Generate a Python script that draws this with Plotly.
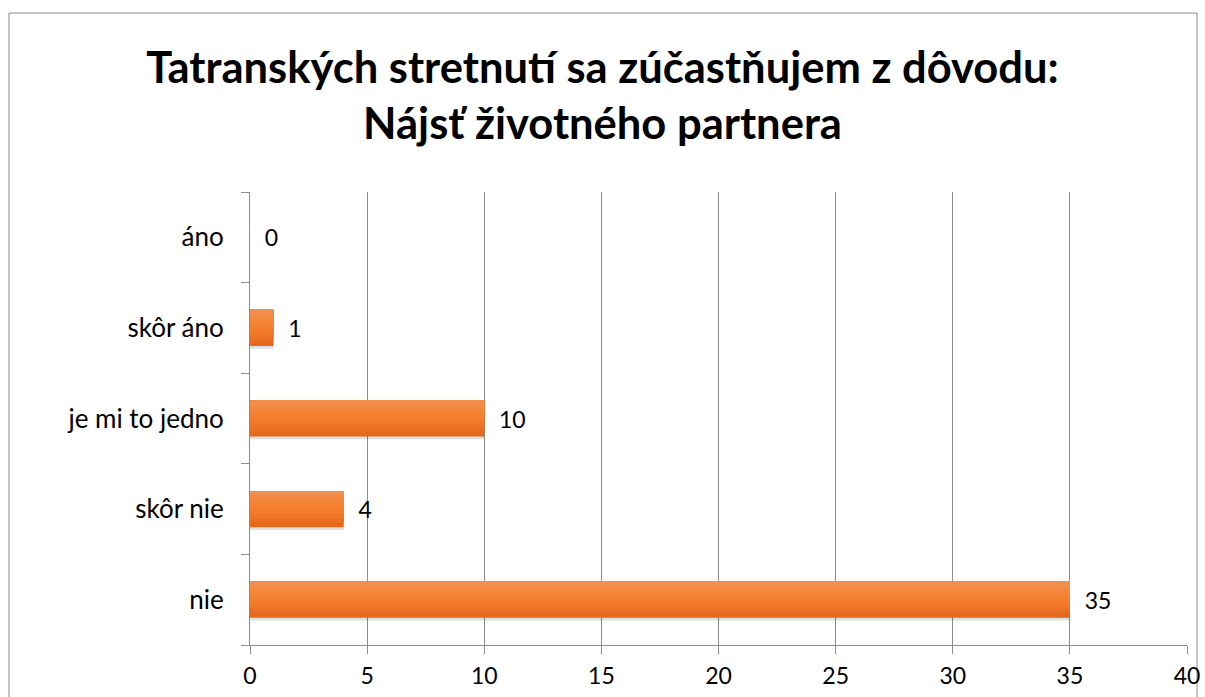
import plotly.graph_objects as go

categories = ["nie", "skôr nie", "je mi to jedno", "skôr áno", "áno"]
counts = [35, 4, 10, 1, 0]
x_ticks = [0, 5, 10, 15, 20, 25, 30, 35, 40]

W, H = 1205, 697
L, R, T, B = 250, 18, 192, 52
pw, ph = W - L - R, H - T - B
FONT = "Lato, Liberation Sans, sans-serif"

def px_x(v):
    return (v - L) / pw

def px_y(v):
    return 1 - (v - T) / ph

fig = go.Figure()

# soft shadow under each bar
fig.add_trace(go.Bar(
    y=categories, x=counts, orientation="h",
    width=0.4, offset=-0.23,
    marker=dict(color="rgba(0,0,0,0.13)", line=dict(width=0)),
    hoverinfo="skip",
))

# fake vertical gradient: dark at the bottom, lighter towards the top
grad = ["#E4691D", "#EA6F22", "#EF7627", "#F37C2B", "#F4802F", "#F38438", "#F38943", "#F28E4E"]
step = 0.4 / len(grad)
for i, col in enumerate(grad):
    fig.add_trace(go.Bar(
        y=categories, x=counts, orientation="h",
        width=0.4 - i * step, offset=-0.2 + i * step,
        marker=dict(color=col, line=dict(width=0)),
        hoverinfo="skip",
    ))

# value labels
fig.add_trace(go.Bar(
    y=categories, x=counts, orientation="h",
    width=0.4, offset=-0.2,
    marker=dict(color="rgba(0,0,0,0)", line=dict(width=0)),
    text=["\u00a0\u00a0" + str(c) for c in counts],
    textposition="outside",
    textfont=dict(family=FONT, size=23, color="#000000"),
    cliponaxis=False,
    hoverinfo="skip",
))

fig.update_layout(
    width=W, height=H,
    margin=dict(l=L, r=R, t=T, b=B),
    barmode="overlay",
    paper_bgcolor="white",
    plot_bgcolor="white",
    showlegend=False,
    font=dict(family=FONT, size=23, color="#000000"),
    title=dict(
        text="<b>Tatranských stretnutí sa zúčastňujem z dôvodu:<br>Nájsť životného partnera</b>",
        x=0.5, xanchor="center", y=0.881, yanchor="top",
        font=dict(family=FONT, size=43.5, color="#000000"),
    ),
    xaxis=dict(
        range=[0, 40], tickvals=x_ticks,
        showgrid=True, gridcolor="#8C8C8C", gridwidth=1,
        showline=True, linecolor="#8C8C8C", linewidth=1,
        ticks="outside", ticklen=8, tickcolor="#8C8C8C",
        ticklabelstandoff=2, tickfont=dict(size=23),
        ticklabeloverflow="allow", automargin=False,
        zeroline=False, fixedrange=True,
    ),
    yaxis=dict(
        type="category", categoryorder="array", categoryarray=categories,
        showline=True, linecolor="#8C8C8C", linewidth=1,
        ticks="outside", ticklen=8, tickcolor="#8C8C8C", tickson="boundaries",
        showgrid=False, ticklabelstandoff=20, tickfont=dict(size=26),
        automargin=False, fixedrange=True,
    ),
    shapes=[dict(
        type="rect", xref="paper", yref="paper",
        x0=px_x(9), x1=px_x(1197), y0=px_y(13), y1=px_y(720),
        line=dict(color="#8C8C8C", width=1), layer="below",
    )],
)

# drop the default 8px page margin so the figure fills the window exactly
fig.write_html(
    "out.html",
    config={"displayModeBar": False},
    post_script="document.body.style.margin='0';",
)
